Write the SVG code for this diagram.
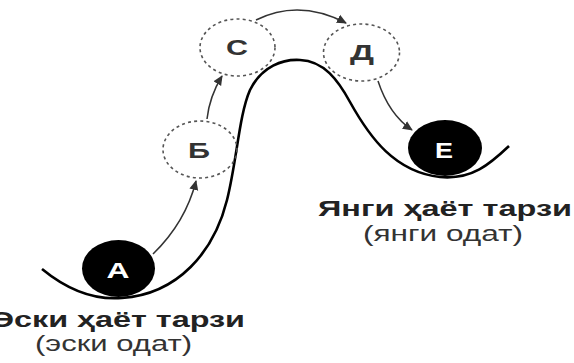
<svg xmlns="http://www.w3.org/2000/svg" width="574" height="363" viewBox="0 0 574 363">
<style>
.dash{fill:none;stroke:#555;stroke-width:1.6;stroke-dasharray:3 3.2}
.solid{fill:#000;stroke:none}
.lt{font-family:"Liberation Sans",Arial,sans-serif;font-weight:bold;font-size:22px;text-anchor:middle}
.dark{fill:#333}
.white{fill:#fff}
.title{font-family:"Liberation Sans",Arial,sans-serif;font-weight:bold;font-size:22px;fill:#222;text-anchor:middle}
.sub{font-family:"Liberation Sans",Arial,sans-serif;font-size:22px;fill:#333;text-anchor:middle}
.conn{fill:none;stroke:#333;stroke-width:1.5}
.hill{fill:none;stroke:#000;stroke-width:2.6}
</style>
<defs>
<marker id="ah" viewBox="0 0 10 10" refX="9" refY="5" markerWidth="10" markerHeight="10" markerUnits="userSpaceOnUse" orient="auto">
<path d="M0,0.5 L10,5 L0,9.5 Z" fill="#333"/>
</marker>
</defs>
<rect width="574" height="363" fill="#fff"/>
<path class="hill" d="M42,269 C70,292 98,300 122,298 C178,294 214,252 227,200 C237,160 239,115 250,90 C262,66 283,59 300,60 C324,61 338,80 350,102 C370,138 395,172 440,177 C472,180 490,164 509,146"/>
<g id="connectors">
<path class="conn" marker-end="url(#ah)" d="M153,254 Q185.5,222.5 196,181"/>
<path class="conn" marker-end="url(#ah)" d="M207,119 Q209.5,96.5 222,76"/>
<path class="conn" marker-end="url(#ah)" d="M256,20 Q299,-1.5 346,23"/>
<path class="conn" marker-end="url(#ah)" d="M378,81 Q389,114.5 412,130"/>
</g>
<g id="nodeA">
<ellipse class="solid" cx="118.5" cy="268.5" rx="36.5" ry="28.5"/>
<text class="lt white" x="118" y="278" textLength="23" lengthAdjust="spacingAndGlyphs">А</text>
</g>
<g id="nodeB">
<ellipse class="dash" cx="200" cy="149.5" rx="37" ry="28.5"/>
<text class="lt dark" x="199" y="158" textLength="22" lengthAdjust="spacingAndGlyphs">Б</text>
</g>
<g id="nodeC">
<ellipse class="dash" cx="237.5" cy="47.5" rx="37.5" ry="28.5"/>
<text class="lt dark" x="237" y="55" textLength="22" lengthAdjust="spacingAndGlyphs">С</text>
</g>
<g id="nodeD">
<ellipse class="dash" cx="361.5" cy="52.5" rx="38" ry="28.5"/>
<text class="lt dark" x="362" y="60" textLength="24" lengthAdjust="spacingAndGlyphs">Д</text>
</g>
<g id="nodeE">
<ellipse class="solid" cx="445" cy="148" rx="37" ry="28"/>
<text class="lt white" x="444" y="158" textLength="18" lengthAdjust="spacingAndGlyphs">Е</text>
</g>
<g id="labelOld">
<text class="title" x="118" y="327" textLength="254" lengthAdjust="spacingAndGlyphs">Эски ҳаёт тарзи</text>
<text class="sub" x="113.5" y="351" textLength="157" lengthAdjust="spacingAndGlyphs">(эски одат)</text>
</g>
<g id="labelNew">
<text class="title" x="445" y="216" textLength="254" lengthAdjust="spacingAndGlyphs">Янги ҳаёт тарзи</text>
<text class="sub" x="443" y="241" textLength="160" lengthAdjust="spacingAndGlyphs">(янги одат)</text>
</g>
</svg>
